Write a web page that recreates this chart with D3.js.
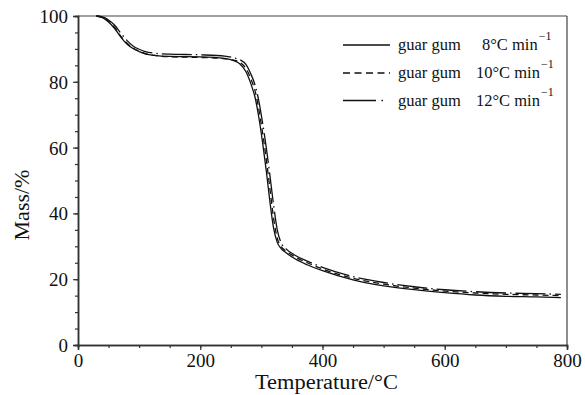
<!DOCTYPE html>
<html>
<head>
<meta charset="utf-8">
<script src="https://cdn.jsdelivr.net/npm/d3@7"></script>
<style>
  html, body { margin: 0; padding: 0; background: #fff; }
  svg { display: block; }
  text { font-family: "Liberation Serif", "Times New Roman", serif; fill: #111; }
</style>
</head>
<body>
<svg id="chart" width="585" height="395"></svg>
<script>
// ---- data ----
const temperatures = [30,40,50,60,70,80,90,100,110,125,150,200,240,255,265,275,283,290,296,302,308,314,320,326,332,340,355,375,400,450,500,550,600,650,700,750,790];
const mass8  = [100,99.5,98.2,96.2,93.6,91.5,90.1,89.2,88.5,88.0,87.7,87.6,87.1,86.4,85.4,83.0,79.3,75.0,69.0,61.5,53.0,43.5,35.5,31.2,29.4,28.1,26.2,24.4,22.6,19.8,18.0,16.8,15.9,15.2,14.8,14.6,14.4];
const mass10 = [100,99.6,98.4,96.5,93.9,91.8,90.3,89.3,88.6,88.0,87.6,87.4,87.0,86.6,85.9,84.0,80.8,77.0,71.5,64.5,56.5,47.5,38.5,32.5,30.0,28.6,26.8,25.0,23.1,20.3,18.5,17.3,16.4,15.8,15.4,15.2,15.0];
const mass12 = [100,99.7,98.8,97.2,94.8,92.6,90.9,89.9,89.2,88.7,88.4,88.2,87.8,87.3,86.7,85.2,82.3,78.8,74.0,67.5,60.0,51.5,42.5,35.0,31.2,29.3,27.3,25.5,23.6,20.8,19.0,17.7,16.8,16.2,15.8,15.6,15.4];
const seriesNames = ["guar gum", "guar gum", "guar gum"];
const seriesRates = ["8°C min", "10°C min", "12°C min"];
const xTicks = [0, 200, 400, 600, 800];
const yTicks = [0, 20, 40, 60, 80, 100];
const xTitle = "Temperature/°C";
const yTitle = "Mass/%";

// ---- layout ----
const svg = d3.select("#chart");
const pLeft = 78, pRight = 567, pTop = 16, pBottom = 345;
const x = d3.scaleLinear().domain([0, 800]).range([pLeft, pRight]);
const y = d3.scaleLinear().domain([0, 100]).range([pBottom, pTop]);

const styles = [
  { dash: null },
  { dash: "6,4" },
  { dash: "30,4,1.5,4" }
];

// frame (top/right)
svg.append("line").attr("x1", pLeft).attr("x2", pRight).attr("y1", pTop).attr("y2", pTop)
  .attr("stroke", "#444").attr("stroke-width", 1.2);
svg.append("line").attr("x1", pRight).attr("x2", pRight).attr("y1", pTop).attr("y2", pBottom)
  .attr("stroke", "#444").attr("stroke-width", 1.2);

// x axis
const xAxisMinor = d3.axisBottom(x).tickValues(d3.range(0, 801, 50)).tickSize(3).tickFormat("");
const xAxis = d3.axisBottom(x).tickValues(xTicks).tickSize(5).tickFormat(d3.format("d"));
const gxm = svg.append("g").attr("transform", `translate(0,${pBottom})`).call(xAxisMinor);
const gx = svg.append("g").attr("transform", `translate(0,${pBottom})`).call(xAxis);
// y axis
const yAxisMinor = d3.axisLeft(y).tickValues(d3.range(0, 101, 5)).tickSize(3).tickFormat("");
const yAxis = d3.axisLeft(y).tickValues(yTicks).tickSize(5).tickFormat(d3.format("d"));
const gym = svg.append("g").attr("transform", `translate(${pLeft},0)`).call(yAxisMinor);
const gy = svg.append("g").attr("transform", `translate(${pLeft},0)`).call(yAxis);

[gxm, gx, gym, gy].forEach(g => {
  g.select(".domain").attr("stroke", "#333").attr("stroke-width", 1.5);
  g.selectAll(".tick line").attr("stroke", "#333").attr("stroke-width", 1.2);
});
gx.selectAll(".tick text").attr("font-family", "Liberation Serif, serif").attr("font-size", 19)
  .attr("fill", "#111").attr("dy", "0").attr("y", 22);
gy.selectAll(".tick text").attr("font-family", "Liberation Serif, serif").attr("font-size", 19)
  .attr("fill", "#111").attr("x", -10).attr("dy", "0.34em");

// axis titles
svg.append("text").attr("x", (pLeft + pRight) / 2 + 4).attr("y", 389)
  .attr("text-anchor", "middle").attr("font-size", 20)
  .attr("textLength", 143).attr("lengthAdjust", "spacingAndGlyphs")
  .text(xTitle);
svg.append("text").attr("transform", "translate(29,205) rotate(-90)")
  .attr("text-anchor", "middle").attr("font-size", 22)
  .text(yTitle);

// curves
const line = d3.line().x(d => x(d[0])).y(d => y(d[1])).curve(d3.curveMonotoneX);
[mass8, mass10, mass12].forEach((m, i) => {
  const pts = temperatures.map((t, j) => [t, m[j]]);
  svg.append("path").datum(pts)
    .attr("d", line)
    .attr("fill", "none")
    .attr("stroke", "#111")
    .attr("stroke-width", 1.3)
    .attr("stroke-dasharray", styles[i].dash);
});

// legend
const legRows = [45, 73, 100.5];
const rateX = [482, 476, 476];
legRows.forEach((ly, i) => {
  svg.append("line").attr("x1", 343).attr("x2", i === 2 ? 385 : 390).attr("y1", ly).attr("y2", ly)
    .attr("stroke", "#111").attr("stroke-width", 1.3)
    .attr("stroke-dasharray", i === 1 ? "7,4.5" : (i === 2 ? "33,5.5,1.5,20" : null));
  const t = svg.append("text").attr("x", 398).attr("y", ly + 5).attr("font-size", 16.5);
  t.append("tspan").text(seriesNames[i]);
  t.append("tspan").attr("x", rateX[i]).text(seriesRates[i]);
  t.append("tspan").attr("dy", -10).attr("dx", 1).attr("font-size", 12).text("−1");
});
</script>
</body>
</html>
